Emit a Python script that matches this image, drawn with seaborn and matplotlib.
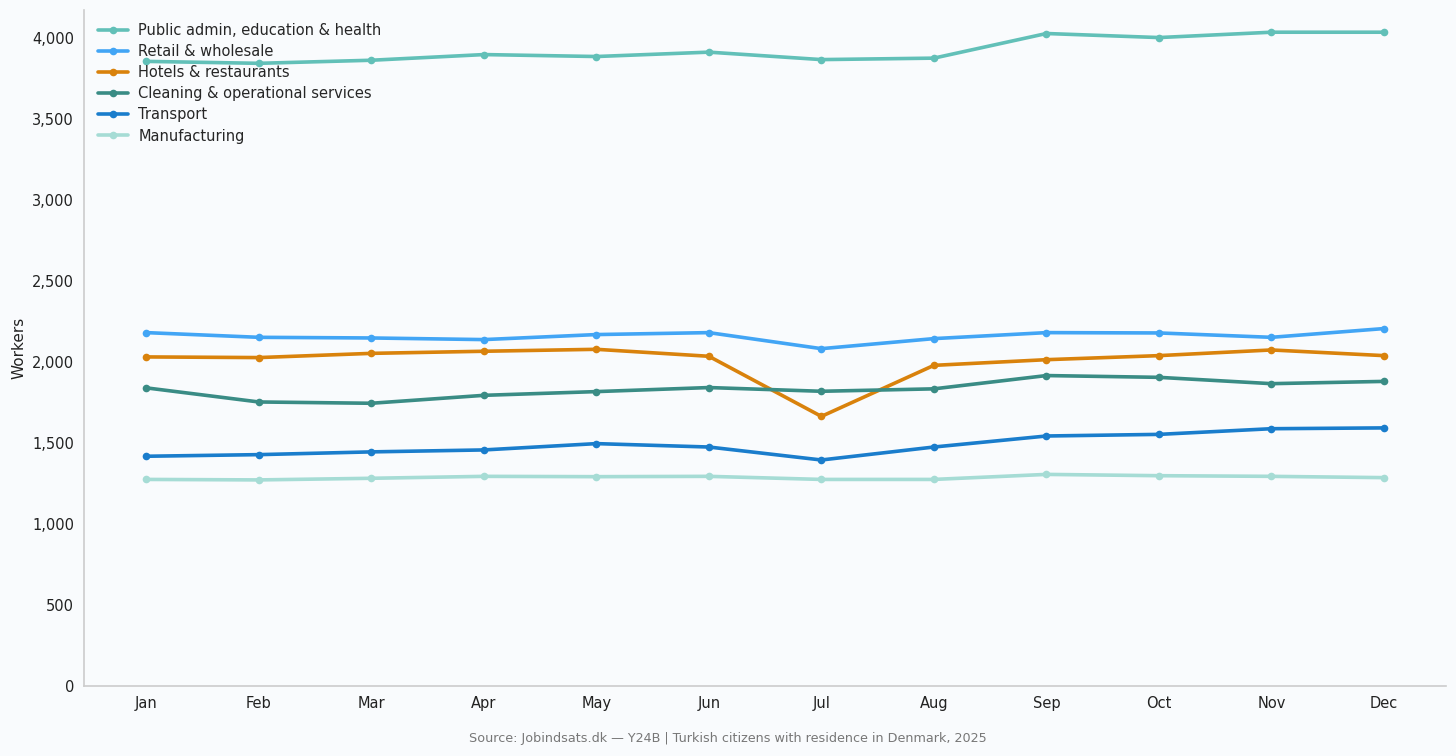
import numpy as np
import pandas as pd
import seaborn as sns
import matplotlib.pyplot as plt
from matplotlib.ticker import FuncFormatter

months = ['Jan', 'Feb', 'Mar', 'Apr', 'May', 'Jun',
          'Jul', 'Aug', 'Sep', 'Oct', 'Nov', 'Dec']

public_admin = [3853, 3841, 3860, 3895, 3883, 3910, 3864, 3873, 4025, 4000, 4033, 4033]
retail = [2179, 2150, 2146, 2136, 2167, 2179, 2080, 2142, 2179, 2177, 2150, 2204]
hotels = [2029, 2025, 2051, 2064, 2076, 2033, 1662, 1977, 2012, 2037, 2072, 2037]
cleaning = [1838, 1751, 1743, 1792, 1815, 1840, 1817, 1832, 1914, 1903, 1864, 1878]
transport = [1416, 1426, 1443, 1455, 1494, 1473, 1393, 1473, 1541, 1551, 1586, 1591]
manufacturing = [1273, 1270, 1280, 1292, 1290, 1292, 1273, 1273, 1304, 1296, 1292, 1284]

sectors = {
    'Public admin, education & health': public_admin,
    'Retail & wholesale': retail,
    'Hotels & restaurants': hotels,
    'Cleaning & operational services': cleaning,
    'Transport': transport,
    'Manufacturing': manufacturing,
}
colors = ['#62c0b8', '#42a5f5', '#d9820c', '#3a8c85', '#1a7dcc', '#a6dcd5']

rows = []
for name, vals in sectors.items():
    for m, v in zip(months, vals):
        rows.append({'month': m, 'sector': name, 'workers': v})
df = pd.DataFrame(rows)
df['month'] = pd.Categorical(df['month'], categories=months, ordered=True)
df['pos'] = df['month'].cat.codes

sns.set_style('white')
plt.rcParams['font.family'] = ['DejaVu Sans']

bg = '#f9fbfd'
fig, ax = plt.subplots(figsize=(14.56, 7.56), dpi=100)
fig.patch.set_facecolor(bg)
ax.set_facecolor(bg)

sns.lineplot(data=df, x='pos', y='workers', hue='sector', palette=colors,
             marker='o', markersize=5.5, markeredgewidth=0, linewidth=2.6, ax=ax)

ax.set_xticks(range(len(months)))
ax.set_xticklabels(months)
ax.set_ylim(bottom=0)
ax.yaxis.set_major_formatter(FuncFormatter(lambda v, p: f'{int(v):,}'))
ax.set_xlabel('')
ax.set_ylabel('Workers', fontsize=11, color='#222222')
ax.tick_params(axis='both', labelsize=10.5, colors='#222222', length=4, width=1)

for s in ['top', 'right']:
    ax.spines[s].set_visible(False)
for s in ['left', 'bottom']:
    ax.spines[s].set_color('#cccccc')
    ax.spines[s].set_linewidth(1.2)

leg = ax.legend(loc='upper left', frameon=False, fontsize=10.5, handlelength=2.1,
                borderaxespad=0.5, labelspacing=0.42, handletextpad=0.7)

fig.text(0.5, 0.015, 'Source: Jobindsats.dk \u2014 Y24B | Turkish citizens with residence in Denmark, 2025',
         ha='center', va='bottom', fontsize=9.2, color='#777777')

plt.subplots_adjust(left=0.058, right=0.993, top=0.987, bottom=0.093)
fig.savefig('out.png', dpi=100, facecolor=bg)
